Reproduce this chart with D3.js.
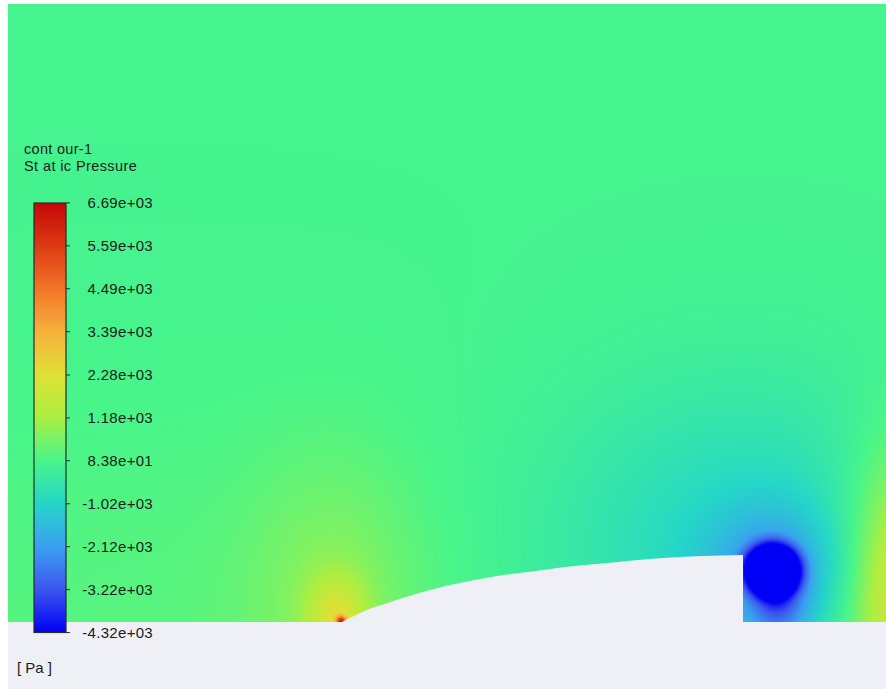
<!DOCTYPE html>
<html><head><meta charset="utf-8">
<script src="https://cdn.jsdelivr.net/npm/d3@7"></script>
<style>
html,body{margin:0;padding:0;background:#fff;}
svg{display:block;}
text{font-family:"Liberation Sans",Arial,sans-serif;fill:#1c1c1c;}
</style></head><body>
<svg id="chart" width="886" height="689"></svg>
<script>
// ---------- legend data ----------
const legendTitle = ["cont our-1", "St at ic Pressure"];
const unitLabel = "[ Pa ]";
const pressureRange = [-4318.2, 6686.8];           // Pa, min / max of the contour
const tickLabels = ["-4.32e+03","-3.22e+03","-2.12e+03","-1.02e+03","8.38e+01",
                    "1.18e+03","2.28e+03","3.39e+03","4.49e+03","5.59e+03","6.69e+03"];
const barColors  = ["#0000f6","#3c56ee","#3aa0f0","#24d6c8","#48f58a",
                    "#aaef42","#e0e036","#f5b23c","#f37428","#dc3a12","#c60606"];

// ---------- geometry (chord units, leading edge x=0, step x=1) ----------
const surfaceX = [0, 0.052, 0.136, 0.219, 0.302, 0.386, 0.469, 0.551, 0.635, 0.718, 0.800, 0.885, 1.0];
const surfaceY = [0, 0.0257, 0.0549, 0.0798, 0.0990, 0.1147, 0.1254, 0.1364, 0.1446, 0.1529, 0.1596, 0.1638, 0.1671];

// ---------- pressure field features ----------
const freeStream = 0;   // Pa
const featName  = ["stagnation core","stagnation halo","stagnation far","suction","vortex core","vortex halo","vortex tail","right high","left ground"];
const featValue = [4000, 1500, 650, -1000, -5200, -1500, -1500, 2800, 250];
const featX     = [-0.002, -0.012, -0.020, 0.990, 1.074, 1.078, 1.088, 1.430, -0.479];
const featY     = [0.002, 0.010, 0.055, 0.180, 0.130, 0.120, 0.040, 0.060, 0.000];
const featSx    = [0.009, 0.050, 0.150, 0.330, 0.058, 0.115, 0.045, 0.120, 0.620];
const featSy    = [0.009, 0.070, 0.250, 0.280, 0.055, 0.115, 0.055, 0.240, 0.374];
const featPow   = [1, 1, 1, 1, 1.6, 1, 1, 1, 1];

// ---------- layout ----------
const W = 886, H = 689;
const field = {x0: 8, x1: 886, y0: 4, y1: 622};
const x = d3.scaleLinear().domain([-0.8329, 1.3566]).range([field.x0, field.x1]);
const y = d3.scaleLinear().domain([0, 1.5411]).range([field.y1, field.y0]);

const tickValues = tickLabels.map(Number);
const color = d3.scaleLinear().domain(tickValues).range(barColors)
  .interpolate(d3.interpolateRgb).clamp(true);

const svg = d3.select("#chart");

// ---------- field raster ----------
const fw = field.x1 - field.x0, fh = field.y1 - field.y0;
const canvas = document.createElement("canvas");
canvas.width = fw; canvas.height = fh;
const ctx = canvas.getContext("2d");
const img = ctx.createImageData(fw, fh);
const N = 2048;
const lut = d3.range(N).map(i => d3.rgb(color(pressureRange[0] + (pressureRange[1]-pressureRange[0]) * i/(N-1))));
function pressure(cx, cy) {
  let p = freeStream;
  for (let k = 0; k < featValue.length; k++) {
    const dx = (cx - featX[k]) / featSx[k], dy = (cy - featY[k]) / featSy[k];
    let q = dx*dx + dy*dy;
    if (featPow[k] !== 1) q = Math.pow(q, featPow[k]);
    p += featValue[k] * Math.exp(-0.5 * q);
  }
  return p;
}
for (let j = 0; j < fh; j++) {
  const cy = y.invert(field.y0 + j + 0.5);
  for (let i = 0; i < fw; i++) {
    const cx = x.invert(field.x0 + i + 0.5);
    const p = pressure(cx, cy);
    let t = (p - pressureRange[0]) / (pressureRange[1] - pressureRange[0]);
    t = Math.max(0, Math.min(1, t));
    const c = lut[Math.round(t * (N-1))];
    const o = (j*fw + i) * 4;
    img.data[o] = c.r; img.data[o+1] = c.g; img.data[o+2] = c.b; img.data[o+3] = 255;
  }
}
ctx.putImageData(img, 0, 0);
svg.append("image").attr("x", field.x0).attr("y", field.y0)
  .attr("width", fw).attr("height", fh)
  .attr("href", canvas.toDataURL());

// ---------- ground & body ----------
const solid = "#eff0f5";
svg.append("rect").attr("x", field.x0).attr("y", field.y1)
  .attr("width", fw).attr("height", H - field.y1).attr("fill", solid);
const surface = surfaceX.map((v, i) => [v, surfaceY[i]]);
svg.append("path").datum(surface)
  .attr("d", d3.area().x(d => x(d[0])).y0(y(0) + 1).y1(d => y(d[1])).curve(d3.curveMonotoneX))
  .attr("fill", solid);

// ---------- legend ----------
const bar = {x: 34, w: 32, top: 203, bottom: 632.5};
const ly = d3.scaleLinear().domain(pressureRange).range([bar.bottom, bar.top]);
const defs = svg.append("defs");
const grad = defs.append("linearGradient").attr("id", "barGrad")
  .attr("x1", 0).attr("y1", 1).attr("x2", 0).attr("y2", 0);
d3.range(0, 1.0001, 0.02).forEach(t => {
  const v = pressureRange[0] + t * (pressureRange[1] - pressureRange[0]);
  grad.append("stop").attr("offset", t).attr("stop-color", color(v));
});
svg.append("rect").attr("x", bar.x).attr("y", bar.top)
  .attr("width", bar.w).attr("height", bar.bottom - bar.top)
  .attr("fill", "url(#barGrad)").attr("stroke", "#2b2b2b").attr("stroke-width", 1.2);
const tg = svg.append("g");
tickLabels.forEach(lbl => {
  const yy = ly(+lbl);
  tg.append("line").attr("x1", bar.x + bar.w).attr("x2", bar.x + bar.w + 4)
    .attr("y1", yy).attr("y2", yy).attr("stroke", "#2b2b2b").attr("stroke-width", 1);
  tg.append("text").attr("x", 153).attr("y", yy).attr("dy", "0.36em")
    .attr("text-anchor", "end").attr("font-size", 15).attr("letter-spacing", 0.3).text(lbl);
});
svg.append("text").attr("x", 24).attr("y", 154).attr("font-size", 14.5)
  .attr("letter-spacing", 0.3).text(legendTitle[0]);
svg.append("text").attr("x", 24).attr("y", 171).attr("font-size", 14.5)
  .attr("letter-spacing", 0.4).text(legendTitle[1]);
svg.append("text").attr("x", 17).attr("y", 673).attr("font-size", 15).text(unitLabel);
</script>
</body></html>
